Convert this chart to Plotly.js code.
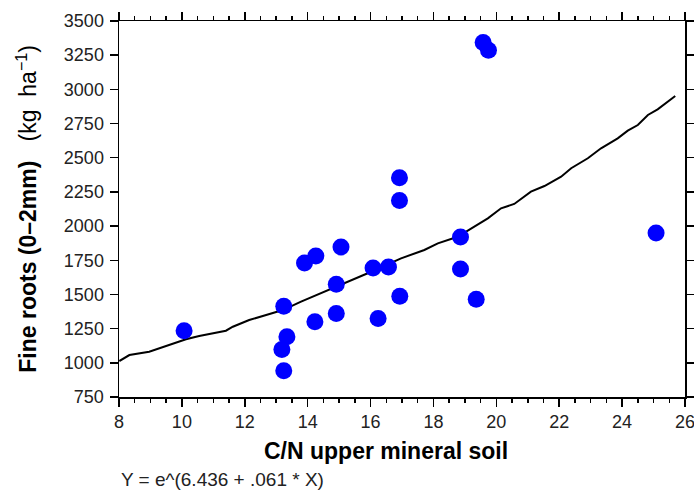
<!DOCTYPE html>
<html>
<head>
<meta charset="utf-8">
<script src="https://cdn.plot.ly/plotly-3.0.1.min.js"></script>
<style>html,body{margin:0;padding:0;background:#fff;}#chart{width:694px;height:492px;}</style>
</head>
<body>
<div id="chart"></div>
<script>
// Observed points: C/N upper mineral soil vs fine roots (kg/ha)
const cnValues = [10.07, 13.24, 13.34, 13.18, 13.24, 13.90, 14.26, 14.23, 15.06, 14.91, 14.91, 16.08, 16.57, 16.24, 16.93, 16.92, 16.92, 19.58, 19.75, 18.86, 18.86, 25.08, 19.36];
const rootValues = [1235, 1414, 1190, 1098, 942, 1730, 1781, 1300, 1847, 1574, 1361, 1694, 1701, 1324, 1487, 2187, 2353, 3342, 3286, 1920, 1686, 1949, 1465];

// Fitted curve
const fitX = [8.01, 8.33, 8.96, 9.60, 10.13, 10.55, 11.09, 11.40, 11.62, 12.14, 12.68, 13.21, 13.79, 14.42, 15.17, 15.91, 16.97, 17.71, 18.14, 18.77, 19.30, 19.73, 20.15, 20.57, 21.10, 21.53, 22.06, 22.38, 22.91, 23.33, 23.86, 24.18, 24.50, 24.82, 25.13, 25.45, 25.69];
const fitY = [1013, 1057, 1081, 1130, 1172, 1196, 1223, 1235, 1264, 1313, 1350, 1386, 1447, 1508, 1582, 1655, 1764, 1825, 1874, 1922, 1996, 2057, 2130, 2162, 2252, 2293, 2361, 2423, 2496, 2569, 2642, 2698, 2739, 2813, 2854, 2910, 2951];

const xTicks = [8, 10, 12, 14, 16, 18, 20, 22, 24, 26];
const yTicks = [750, 1000, 1250, 1500, 1750, 2000, 2250, 2500, 2750, 3000, 3250, 3500];

const xTitle = "<b>C/N upper mineral soil</b>";
const yTitle = "<b>Fine roots (0–2mm)</b>   (kg  ha<sup>−1</sup>)";
const equation = "Y = e^(6.436 + .061 * X)";

const font = "Liberation Sans, Arial, sans-serif";

const traces = [
  {
    x: fitX, y: fitY, type: "scatter", mode: "lines",
    line: {color: "#000000", width: 2}, hoverinfo: "skip"
  },
  {
    x: cnValues, y: rootValues, type: "scatter", mode: "markers",
    marker: {color: "#0000ff", size: 17, line: {width: 0}}
  }
];

const axisCommon = {
  showline: true, linecolor: "#000", linewidth: 1.5,
  mirror: "allticks", ticks: "outside", ticklen: 8, tickwidth: 1.5, tickcolor: "#000",
  showgrid: false, zeroline: false, ticklabeloverflow: "allow",
  tickfont: {family: font, size: 18, color: "#222"}
};

const layout = {
  width: 694, height: 492,
  margin: {l: 119, r: 9, t: 21, b: 95},
  paper_bgcolor: "#fff", plot_bgcolor: "#fff",
  showlegend: false,
  font: {family: font, color: "#222"},
  xaxis: Object.assign({}, axisCommon, {
    range: [8, 26], tickvals: xTicks, ticktext: xTicks.map(String),
    minor: {dtick: 0.5, tick0: 8, ticks: "outside", ticklen: 4, tickwidth: 1.5, tickcolor: "#000"}
  }),
  yaxis: Object.assign({}, axisCommon, {
    range: [750, 3500], tickvals: yTicks, ticktext: yTicks.map(String), ticklabelstandoff: 2
  }),
  annotations: [
    {text: yTitle, xref: "paper", yref: "paper", x: -0.163, y: 0.5, xanchor: "center", yanchor: "middle",
     textangle: -90, showarrow: false, font: {family: font, size: 23, color: "#000"}},
    {text: xTitle, xref: "paper", yref: "paper", x: 0.472, y: -0.1436, xanchor: "center", yanchor: "middle",
     showarrow: false, font: {family: font, size: 23, color: "#000"}},
    {text: equation, xref: "paper", yref: "paper", x: 0.0, y: -0.2535, xanchor: "left", yanchor: "bottom",
     showarrow: false, font: {family: font, size: 19, color: "#222"}}
  ]
};

Plotly.newPlot("chart", traces, layout, {displayModeBar: false, staticPlot: true});
</script>
</body>
</html>
